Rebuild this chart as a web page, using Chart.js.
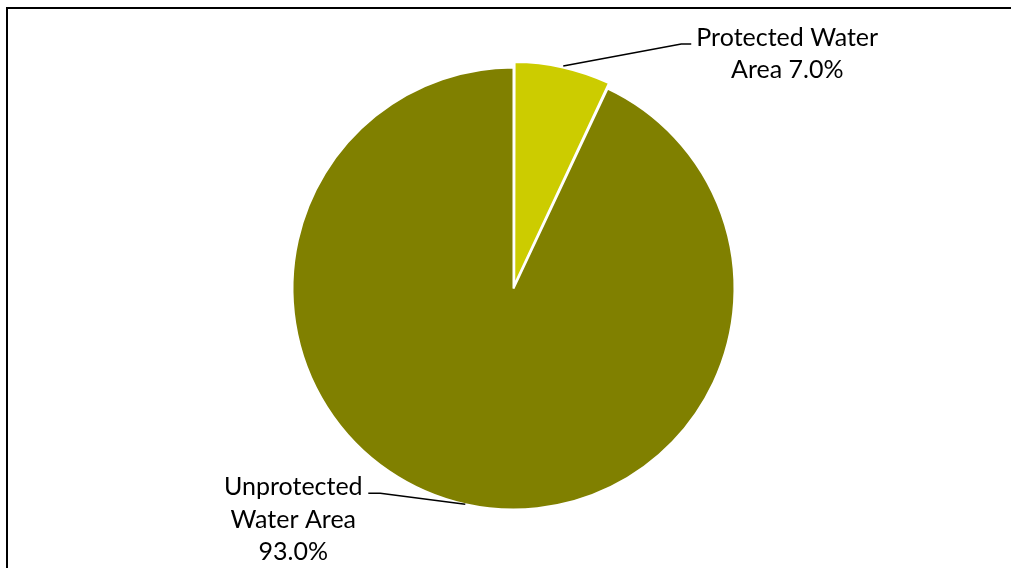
<!DOCTYPE html>
<html>
<head>
<meta charset="utf-8">
<script src="https://cdn.jsdelivr.net/npm/chart.js@4.4.0/dist/chart.umd.min.js"></script>
<style>
  html, body { margin: 0; padding: 0; background: #fff; overflow: hidden; }
  #wrap { position: relative; width: 1011px; height: 568px; overflow: hidden; }
  #frame { position: absolute; left: 6px; top: 7px; right: -20px; bottom: -20px;
           border-left: 2px solid #000; border-top: 2px solid #000; }
  canvas { position: absolute; left: 0; top: 0; }
</style>
</head>
<body>
<div id="wrap">
  <div id="frame"></div>
  <canvas id="myChart" width="1011" height="568"></canvas>
</div>
<script>
// Script for chart.
const categories = ["Protected Water Area", "Unprotected Water Area"];
const shares = [7.0, 93.0];
const sliceColors = ["#CCCC00", "#808000"];
// how each label is wrapped on the chart
const labelLines = [["Protected Water", "Area"], ["Unprotected", "Water Area"]];
const pctOwnLine = [false, true];

const FONT = '25px Lato';

const leaderLabels = {
  id: "leaderLabels",
  afterDraw(chart) {
    const ctx = chart.ctx;
    const meta = chart.getDatasetMeta(0);
    const offsets = chart.data.datasets[0].offset;
    ctx.save();
    ctx.font = FONT;
    ctx.fillStyle = "#000";
    ctx.strokeStyle = "#000";
    ctx.lineWidth = 1.6;
    ctx.textAlign = "center";
    ctx.textBaseline = "alphabetic";
    meta.data.forEach((arc, i) => {
      const p = arc.getProps(["x", "y", "startAngle", "endAngle", "outerRadius"]);
      const mid = (p.startAngle + p.endAngle) / 2;
      // arcs are drawn shifted by half their offset value
      const off = (offsets[i] || 0) / 2;
      const sx = p.x + Math.cos(mid) * (p.outerRadius + off);
      const sy = p.y + Math.sin(mid) * (p.outerRadius + off);
      const right = Math.cos(mid) >= 0;
      // elbow and horizontal stub
      const ex = right ? sx + 118 : sx - 85;
      const ey = right ? sy - 22 : sy - 11;
      const hx = right ? ex + 10 : ex - 12;
      ctx.beginPath();
      ctx.moveTo(sx, sy);
      ctx.lineTo(ex, ey);
      ctx.lineTo(hx, ey);
      ctx.stroke();

      const pct = shares[i].toFixed(1) + "%";
      const lines = labelLines[i].slice();
      if (pctOwnLine[i]) lines.push(pct);
      else lines[lines.length - 1] += " " + pct;
      const tx = right ? hx + 96 : hx - 75;
      const lineH = 32.5;
      lines.forEach((t, k) => {
        ctx.fillText(t, tx, ey + 2 + k * lineH);
      });
    });
    ctx.restore();
  },
};

var ctx = document.getElementById("myChart");
var myChart = new Chart(ctx, {
  type: "pie",
  data: {
    labels: categories,
    datasets: [
      {
        data: shares,
        backgroundColor: sliceColors,
        borderColor: "#FFFFFF",
        borderWidth: 2,
        offset: [14, 0],
      },
    ],
  },
  options: {
    responsive: false,
    animation: false,
    radius: 221,
    layout: { padding: { left: 16, right: 0, top: 9, bottom: 0 } },
    plugins: {
      legend: { display: false },
      tooltip: { enabled: false },
    },
  },
  plugins: [leaderLabels],
});
</script>
</body>
</html>
